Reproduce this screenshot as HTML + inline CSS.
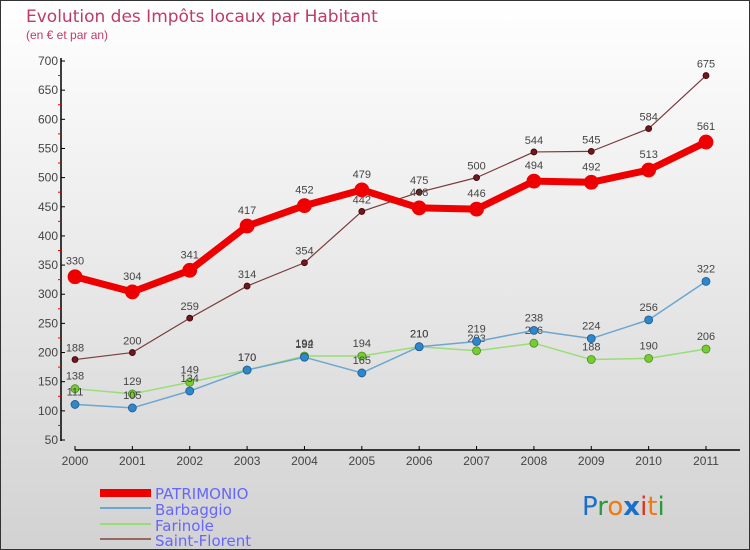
<!DOCTYPE html>
<html><head><meta charset="utf-8"><style>
body{margin:0;width:750px;height:550px;overflow:hidden}
svg{display:block;font-family:"Liberation Sans","DejaVu Sans",sans-serif}
</style></head><body>
<svg id="c" width="750" height="550">
<defs><linearGradient id="bg" x1="0" y1="0" x2="0" y2="1"><stop offset="0" stop-color="#ffffff"/><stop offset="1" stop-color="#d2d2d2"/></linearGradient></defs>
<rect x="0.5" y="0.5" width="749" height="549" fill="url(#bg)" stroke="#333"/>
<text x="26" y="22" font-size="17" fill="#c0396a" font-family="'DejaVu Sans',sans-serif">Evolution des Impôts locaux par Habitant</text>
<text x="26" y="39" font-size="12" fill="#c0396a">(en € et par an)</text>
<g id="axes"></g><g id="series"></g>
<g font-size="15" fill="#6666ff" font-family="'DejaVu Sans',sans-serif">
<rect x="100" y="489" width="51" height="8" fill="#ee0000"/>
<text x="155" y="499">PATRIMONIO</text>
<rect x="100" y="507" width="51" height="2" fill="#6da6d0"/>
<text x="155" y="515">Barbaggio</text>
<rect x="100" y="523" width="51" height="2" fill="#99dd77"/>
<text x="155" y="531">Farinole</text>
<rect x="100" y="538" width="51" height="2" fill="#996666"/>
<text x="155" y="546">Saint-Florent</text>
</g>
<g font-size="26" font-family="'DejaVu Sans',sans-serif">
<text x="582" y="515"><tspan fill="#1a6fc9">P</tspan><tspan fill="#2a9a3a">r</tspan><tspan fill="#f07a10">o</tspan><tspan fill="#1a6fc9" font-weight="bold">x</tspan><tspan fill="#e03020">i</tspan><tspan fill="#f07a10">t</tspan><tspan fill="#2a9a3a">i</tspan></text>
</g>
</svg>
<script>
const years=["2000","2001","2002","2003","2004","2005","2006","2007","2008","2009","2010","2011"];
const patrimonio=[330,304,341,417,452,479,448,446,494,492,513,561];
const barbaggio=[111,105,134,170,192,165,210,219,238,224,256,322];
const farinole=[138,129,149,170,194,194,210,203,216,188,190,206];
const saintFlorent=[188,200,259,314,354,442,475,500,544,545,584,675];
const yTicks=[50,100,150,200,250,300,350,400,450,500,550,600,650,700];
const NS="http://www.w3.org/2000/svg";
function x(i){return 75+i*(706-75)/(years.length-1);}
function y(v){return 440-(v-50)*(440-61)/650;}
function mk(t,a,p){const e=document.createElementNS(NS,t);for(const k in a)e.setAttribute(k,a[k]);p.appendChild(e);return e;}
const ax=document.getElementById('axes');
let e=mk('line',{x1:61,y1:58,x2:61,y2:441,stroke:'#000','stroke-width':1.5},ax);


e=mk('line',{x1:75,y1:450,x2:740,y2:450,stroke:'#000','stroke-width':1.5},ax);


yTicks.forEach((v,i)=>{
 mk('line',{x1:61,x2:65,y1:y(v),y2:y(v),stroke:'#000'},ax);
 if(i<yTicks.length-1)mk('line',{x1:58,x2:61,y1:y(v+25),y2:y(v+25),stroke:'#e00'},ax);
 const t=mk('text',{x:58,y:y(v)+4,'text-anchor':'end','font-size':12,fill:'#444'},ax);
 t.textContent=v;
 
 
});
years.forEach((yr,i)=>{
 mk('line',{x1:x(i),x2:x(i),y1:446,y2:450,stroke:'#000'},ax);
 const t=mk('text',{x:x(i),y:465,'text-anchor':'middle','font-size':12,fill:'#444'},ax);
 t.textContent=yr;
 
 
});
const sg=document.getElementById('series');
function draw(data,name,color,dot,w,r,stroke){
 const g=mk('g',{},sg);
 
 
 const l=mk('polyline',{points:data.map((v,i)=>x(i)+','+y(v)).join(' '),fill:'none',stroke:color,'stroke-width':w,'stroke-linejoin':'round'},g);
 
 
 data.forEach((v,i)=>{
  const c=mk('circle',{cx:x(i),cy:y(v),r:r,fill:dot,stroke:stroke,'stroke-width':0.8},g);
  
  
  const t=mk('text',{x:x(i),y:y(v)-(r+5),'text-anchor':'middle','font-size':11,fill:'#444'},g);
  t.textContent=v;
  
  
 });
}
draw(saintFlorent,'saint-florent','#7a3a3a','#6a1a20',1.2,3,'#400');
draw(farinole,'farinole','#99dd77','#77cc33',1.5,4,'#4a8a20');
draw(barbaggio,'barbaggio','#6da6d0','#2f86c8',1.5,4,'#1d5a90');
draw(patrimonio,'patrimonio','#ee0000','#ee0000',7,7,'#ee0000');
</script>
</body></html>
